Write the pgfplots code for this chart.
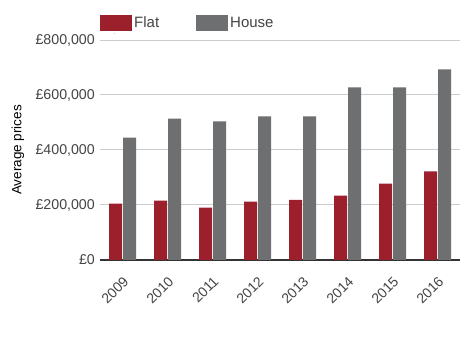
\documentclass[border=0pt]{standalone}
\usepackage{fontspec}
\setmainfont{Liberation Sans}
\usepackage{pgfplots}
\pgfplotsset{compat=1.18}
\usetikzlibrary{calc}
\definecolor{flat}{HTML}{9B202C}
\definecolor{house}{HTML}{6E6F71}
\definecolor{gridc}{HTML}{CCCCCC}
\definecolor{txt}{HTML}{444444}
\definecolor{base}{HTML}{333333}
\begin{document}
\begin{tikzpicture}
\begin{axis}[
  scale only axis, width=360bp, height=220bp,
  ybar=1bp, bar width=13bp,
  xmin=-0.5, xmax=7.5, ymin=0, ymax=800000,
  xtick=data, xticklabels={2009,2010,2011,2012,2013,2014,2015,2016},
  x tick label style={rotate=45, anchor=east, font=\fontsize{14bp}{14bp}\selectfont, text=txt, inner sep=2bp, yshift=-16bp, xshift=-9bp},
  ytick={0,200000,400000,600000,800000},
  yticklabels={{£0},{£200,000},{£400,000},{£600,000},{£800,000}},
  y tick label style={font=\fontsize{14.2bp}{14.2bp}\selectfont, text=txt, inner sep=2bp, xshift=-3bp},
  ymajorgrids, grid style={gridc, line width=1bp},
  axis x line*=bottom, axis y line*=left,
  x axis line style={-, base, line width=1.5bp},
  y axis line style={draw=none},
  major tick length=0pt,
  tick style={draw=none},
  ylabel={Average prices},
  ylabel shift=6bp,
  ylabel style={font=\fontsize{13.5bp}{13.5bp}\selectfont, text=black},
  legend style={at={(0,1)}, anchor=south west, yshift=7bp, xshift=-3bp, draw=none,
    font=\fontsize{15bp}{15bp}\selectfont, text=txt,
    /tikz/every even column/.append style={column sep=35bp}},
  legend columns=2,
  legend image code/.code={\fill[#1, draw=none] (0bp,-8bp) rectangle (32bp,8bp);},
]
\addplot[fill=flat, draw=none] coordinates {(0,205000) (1,216000) (2,190000) (3,212000) (4,219000) (5,234000) (6,278000) (7,322000)};
\addplot[fill=house, draw=none] coordinates {(0,445000) (1,514000) (2,504000) (3,522000) (4,522000) (5,628000) (6,628000) (7,693000)};
\legend{Flat,House}
\end{axis}
\path ($(current axis.south west)+(-100bp,-100bp)$) rectangle ($(current axis.north east)+(10bp,40bp)$);
\end{tikzpicture}
\end{document}
